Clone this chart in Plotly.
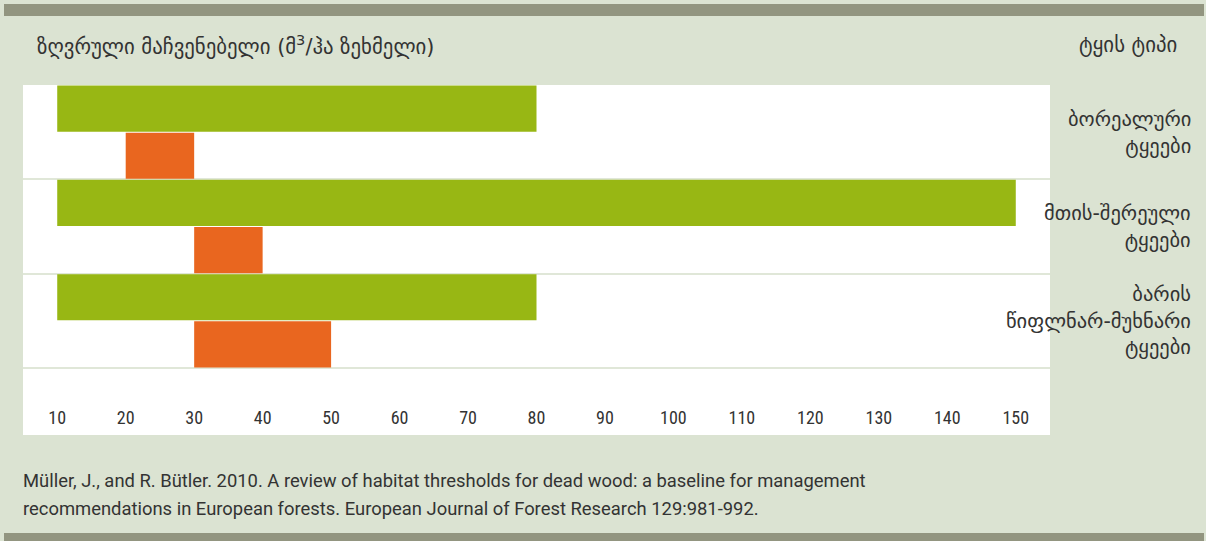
import plotly.graph_objects as go

# ---- data ----
categories = ["ბორეალური<br>ტყეები", "მთის-შერეული<br>ტყეები", "ბარის<br>წიფლნარ-მუხნარი<br>ტყეები"]
range_start = [10, 10, 10]      # green bars (start)
range_end = [80, 150, 80]       # green bars (end)
peak_start = [20, 30, 30]       # orange bars (start)
peak_end = [30, 40, 50]         # orange bars (end)
tick_values = [10, 20, 30, 40, 50, 60, 70, 80, 90, 100, 110, 120, 130, 140, 150]
x_title = "ზღვრული მაჩვენებელი (მ<sup>3</sup>/ჰა ზეხმელი)"
y_title = "ტყის ტიპი"
source_lines = [
    "Müller, J., and R. Bütler. 2010. A review of habitat thresholds for dead wood: a baseline for management",
    "recommendations in European forests. European Journal of Forest Research 129:981-992.",
]

# ---- style ----
W, H = 1206, 541
L, R, T, B = 23, 1050, 85, 435
BG = "#dbe3d2"
BAR_TOP = "#929580"
GREEN = "#98b714"
ORANGE = "#e9661f"
TEXT = "#333333"
NARROW = "Liberation Sans Narrow, Roboto Condensed, Roboto, sans-serif"
FOOT = "Roboto, sans-serif"
GEO = "DejaVu Sans, sans-serif"


def px_x(p):
    return (p - L) / (R - L)


def px_y(p):
    return (B - p) / (B - T)


idx = list(range(len(categories)))

fig = go.Figure()
fig.add_trace(go.Bar(
    y=[i - 0.25 for i in idx],
    x=[e - s for s, e in zip(range_start, range_end)],
    base=range_start,
    orientation="h",
    width=0.49,
    marker=dict(color=GREEN, line=dict(width=0)),
    showlegend=False,
    hoverinfo="skip",
))
fig.add_trace(go.Bar(
    y=[i + 0.25 for i in idx],
    x=[e - s for s, e in zip(peak_start, peak_end)],
    base=peak_start,
    orientation="h",
    width=0.49,
    marker=dict(color=ORANGE, line=dict(width=0)),
    showlegend=False,
    hoverinfo="skip",
))

n = len(categories)
fig.update_layout(
    width=W, height=H,
    margin=dict(l=L, r=W - R, t=T, b=H - B, pad=0),
    paper_bgcolor=BG,
    plot_bgcolor="white",
    barmode="overlay",
    showlegend=False,
    xaxis=dict(
        range=[5, 155],
        tickvals=tick_values,
        ticktext=[str(v) for v in tick_values],
        ticklabelposition="inside",
        ticklabelstandoff=4,
        ticks="",
        showgrid=False,
        zeroline=False,
        showline=False,
        tickfont=dict(family=NARROW, size=18, color=TEXT),
        fixedrange=True,
    ),
    yaxis=dict(
        range=[n - 0.5 + 67 / 94.33, -0.5],
        tickvals=[i + 0.5 for i in idx],
        showticklabels=False,
        ticks="",
        showgrid=True,
        gridcolor="#e0e7d8",
        gridwidth=2,
        zeroline=False,
        showline=False,
        fixedrange=True,
    ),
    shapes=[
        dict(type="rect", xref="paper", yref="paper", layer="below",
             x0=px_x(4), x1=px_x(1204), y0=px_y(16), y1=px_y(4),
             fillcolor=BAR_TOP, line=dict(width=0)),
        dict(type="rect", xref="paper", yref="paper", layer="below",
             x0=px_x(4), x1=px_x(1204), y0=px_y(541), y1=px_y(533),
             fillcolor=BAR_TOP, line=dict(width=0)),
    ],
)

annotations = [
    dict(text=x_title, xref="paper", yref="paper", x=px_x(35), y=px_y(45),
         xanchor="left", yanchor="middle", showarrow=False,
         font=dict(family=GEO, size=20.8, color=TEXT)),
    dict(text=y_title, xref="paper", yref="paper", x=px_x(1179), y=px_y(45),
         xanchor="right", yanchor="middle", showarrow=False,
         font=dict(family=GEO, size=20.8, color=TEXT)),
]
for k, line in enumerate(source_lines):
    annotations.append(dict(
        text=line, xref="paper", yref="paper", x=px_x(21), y=px_y(480 + 28 * k),
        xanchor="left", yanchor="middle", align="left", showarrow=False,
        font=dict(family=FOOT, size=18.4, color=TEXT)))
for i, c in zip(idx, categories):
    annotations.append(dict(
        text=c, xref="paper", yref="y", x=px_x(1193), y=i,
        xanchor="right", yanchor="middle", align="right", showarrow=False,
        font=dict(family=GEO, size=20.5, color=TEXT)))
fig.update_layout(annotations=annotations)

fig.write_html("out.html", config={"displayModeBar": False},
               post_script="document.body.style.margin='0';document.body.style.background='white';")
